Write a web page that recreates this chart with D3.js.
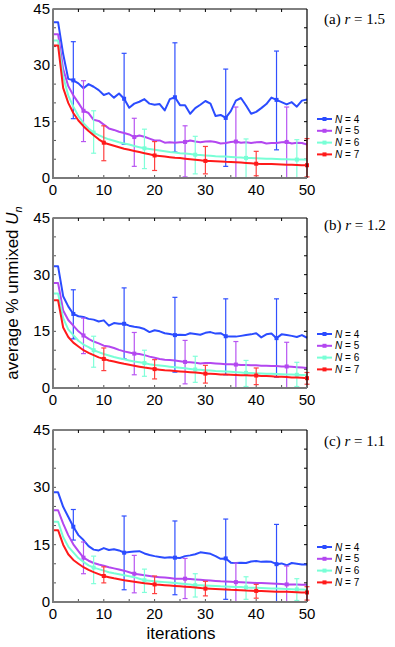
<!DOCTYPE html>
<html>
<head>
<meta charset="utf-8">
<script src="https://cdn.jsdelivr.net/npm/d3@7"></script>
<style>
  body { margin: 0; background: #fff; }
  svg { display: block; }
  text { font-family: "Liberation Sans", Arial, sans-serif; }
  text.title { font-family: "Liberation Serif", "Times New Roman", serif; }
</style>
</head>
<body>
<div id="chart"></div>
<script>
// iterations 0..50
var iterations = d3.range(0, 51);
var xTicks = [0, 10, 20, 30, 40, 50];
var yTicks = [0, 15, 30, 45];
var seriesNames = ["N = 4", "N = 5", "N = 6", "N = 7"];
var panelLabels = ["(a)", "(b)", "(c)"];
var rValues = ["1.5", "1.2", "1.1"];

// (a) r = 1.5
var n4a = [41.5,41.5,33,26.4,26,25.2,23.9,25,24.3,23.4,22.1,22.6,21.4,22.5,21.1,18.7,19.8,20.3,21,19.8,19.5,19.7,18,21,21.5,19.4,19.4,17.1,18.6,19.5,20.5,19.8,16.5,16.8,16,17.8,20.6,21.3,19.3,17.1,17.6,18.6,19.7,21.4,20.8,20.2,19.6,20.2,19,20.6,20.9];
var n5a = [38.3,38.3,29,24.5,22,20,17.9,17.3,15.5,15.2,14.2,13.2,12.8,12.3,12,11.6,10.9,11.3,11,10.5,10,10,9.4,9.5,9.4,9.5,9.6,10,9.7,9.5,9.7,9.8,9.6,9.2,9.3,9.6,9.7,9.4,9.5,9.3,9.5,9.6,9.2,9.3,9.3,9.5,9.6,9.2,9.4,9.3,8.9];
var n6a = [36.6,36.6,27,22,19,16.5,14.6,13.2,12.1,11.4,10.8,10.3,9.9,9.5,9.2,8.9,8.5,8.2,7.9,7.7,7.5,7.3,7.1,6.9,6.8,6.6,6.5,6.4,6.2,6.1,6,5.9,5.8,5.75,5.7,5.6,5.5,5.45,5.35,5.3,5.25,5.2,5.15,5.1,5.05,5,5,4.95,4.9,4.9,4.85];
var n7a = [35.3,35.3,24,20,17.3,15.3,13.8,12.5,11.4,10.3,9.4,9,8.6,8.2,7.8,7.5,7.2,6.9,6.6,6.3,6,5.85,5.7,5.55,5.4,5.3,5.15,5,4.85,4.7,4.55,4.5,4.45,4.4,4.3,4.25,4.2,4.1,4,3.9,3.8,3.75,3.7,3.7,3.65,3.6,3.55,3.5,3.45,3.4,3.4];
// error bars: [iteration, low, high]
var err4a = [[4,15.8,36.3],[14,9,33.2],[24,6.9,36],[34,3.1,29],[44,7.5,33.8]];
var err5a = [[6,9.7,25.9],[16,3.1,15.9],[26,0.3,13.9],[36,0,18.9],[46,0,18.9]];
var err6a = [[8,6.6,17.9],[18,2.5,13],[28,1.1,11.1],[38,0,10.4],[48,0,10.2]];
var err7a = [[10,4.6,13.9],[20,2,9.7],[30,1.1,8.4],[40,0.6,7.1],[50,0.3,10.5]];

// (b) r = 1.2
var n4b = [32.2,32.2,24.3,21.6,19.6,19,18.8,18.3,18.1,17.6,17.9,16.5,17.2,17,17,16.5,16.2,16,15.6,14.8,15.3,15,14.5,14.3,14,14.1,14,14.5,14.3,14.1,14.6,14.8,14.4,14.5,13.7,13.6,13.6,13.8,14,14.2,14.5,13.4,14.2,14.4,13.2,14.2,14,13.8,13.5,14,13.3];
var n5b = [27.8,27.8,20.5,18,16.5,15,13.9,13,12.3,11.8,11.2,11,10.6,10.1,9.7,9.4,9.1,9,8.7,8.3,8,7.7,7.5,7.4,7.3,7.1,6.9,6.8,6.7,6.5,6.6,6.6,6.5,6.4,6.3,6.3,6.2,6.1,6.1,6,6,5.9,5.9,5.8,5.8,5.7,5.7,5.6,5.5,5.4,5.3];
var n6b = [25,25,18.5,15.5,14,12.5,11.5,10.8,10,9.5,9,8.6,8.2,7.9,7.6,7.3,7,6.8,6.6,6.3,6.1,5.95,5.8,5.65,5.5,5.35,5.2,5.05,4.9,4.8,4.7,4.6,4.5,4.45,4.4,4.3,4.2,4.1,4,3.95,3.9,3.85,3.8,3.75,3.7,3.65,3.6,3.55,3.5,3.45,3.4];
var n7b = [23.2,23.2,16,13.5,12,11,10,9.3,8.7,8.1,7.7,7.3,7,6.7,6.4,6.15,5.9,5.65,5.4,5.2,5,4.85,4.7,4.6,4.5,4.4,4.3,4.2,4.1,3.95,3.8,3.75,3.7,3.6,3.55,3.5,3.45,3.4,3.35,3.3,3.3,3.2,3.15,3.1,3,2.95,2.9,2.8,2.75,2.7,2.6];
var err4b = [[4,13,26],[14,7.7,26.5],[24,4.2,24],[34,3.5,23.6],[44,2.9,23.6]];
var err5b = [[6,9.1,18.5],[16,3.5,14.7],[26,1.1,12.6],[36,0,12.3],[46,0,12.1]];
var err6b = [[8,5.5,13.7],[18,3.1,10],[28,1.5,8.4],[38,0.4,7.3],[48,0.4,6.8]];
var err7b = [[10,4.6,10.6],[20,2.4,7.5],[30,1.3,6],[40,0.9,5.3],[50,1,4.1]];

// (c) r = 1.1
var n4c = [28.7,28.7,24.9,22.3,19.7,17.5,16.2,14.6,13.7,13.5,14.1,13.6,13.8,13.5,12.9,13.1,13.2,13.3,12.7,12.3,12,11.8,11.6,11.7,11.6,11.5,12,12.2,12.5,13,12.8,12.6,12,11.3,11.4,10.3,10.2,10.3,10.2,10.6,10.7,10.5,10.6,10.5,9.9,10.1,9.6,10.2,10,9.8,9.8];
var n5c = [24,24,20.5,17.5,15.1,13.3,11.6,10.8,10.2,9.8,9.5,9.1,8.8,8.5,8.2,7.8,7.4,7.2,7,6.8,6.6,6.5,6.4,6.25,6.1,6.1,6.1,6,5.9,5.8,5.7,5.6,5.5,5.4,5.35,5.3,5.2,5.15,5.1,5.05,5,4.95,4.9,4.85,4.8,4.7,4.6,4.6,4.55,4.5,4.5];
var n6c = [21,21,17,14.5,13,11.5,10.5,9.6,9,8.6,8.2,7.8,7.5,7.25,7,6.75,6.5,6.1,5.7,5.55,5.4,5.3,5.2,5.1,5,4.85,4.7,4.55,4.4,4.35,4.3,4.25,4.2,4.1,4.05,4,3.95,3.9,3.8,3.75,3.7,3.65,3.6,3.55,3.5,3.45,3.4,3.35,3.3,3.25,3.2];
var n7c = [18.8,18.8,15,12.5,11,10,9.1,8.4,7.8,7.3,6.8,6.5,6.2,5.95,5.7,5.5,5.3,5.1,4.9,4.75,4.6,4.5,4.4,4.3,4.2,4.1,4,3.9,3.8,3.65,3.5,3.45,3.4,3.35,3.3,3.2,3.15,3.1,3,2.95,2.9,2.85,2.8,2.75,2.7,2.7,2.65,2.6,2.55,2.5,2.5];
var err4c = [[4,16.2,24.2],[14,3.2,22.5],[24,1.9,21.2],[34,0.7,21.7],[44,0,20.3]];
var err5c = [[6,7.4,15.7],[16,2.4,12.2],[26,0.9,11.4],[36,0,10.2],[46,0,9.4]];
var err6c = [[8,4.8,12],[18,2.5,8.6],[28,1.3,7.4],[38,0.7,6.6],[48,0.4,6.1]];
var err7c = [[10,5,9.2],[20,2.2,6.8],[30,1.6,5.4],[40,1,4.6],[50,0.5,4]];

var lineColors = ["#2b4cff", "#b347f0", "#78ffd6", "#ff1a1a"];
var barColors  = ["#3050ff", "#b855f2", "#80ffd9", "#ff4040"];

var W = 395, H = 647;
var left = 53, right = 307;
// panel frames: top, bottom, title baseline, first legend row
var panels = [
  { top: 9,   bottom: 178, titleY: 24,  legY: 119, lines: [n4a, n5a, n6a, n7a], errs: [err4a, err5a, err6a, err7a] },
  { top: 218, bottom: 388, titleY: 230, legY: 334, lines: [n4b, n5b, n6b, n7b], errs: [err4b, err5b, err6b, err7b] },
  { top: 430, bottom: 602, titleY: 446, legY: 547, lines: [n4c, n5c, n6c, n7c], errs: [err4c, err5c, err6c, err7c] }
];

var svg = d3.select("#chart").append("svg").attr("width", W).attr("height", H);
var x = d3.scaleLinear().domain([0, 50]).range([left, right]);

panels.forEach(function(p, pi) {
  var y = d3.scaleLinear().domain([0, 45]).range([p.bottom, p.top]);
  var g = svg.append("g");

  // inner ticks every 5 on all sides
  var minorX = d3.range(5, 50, 5), minorY = d3.range(5, 45, 5);
  g.selectAll(".tb").data(minorX).enter().append("line")
    .attr("x1", x).attr("x2", x).attr("y1", p.bottom).attr("y2", p.bottom - 3)
    .attr("stroke", "#555").attr("stroke-width", 1);
  g.selectAll(".tt").data(minorX).enter().append("line")
    .attr("x1", x).attr("x2", x).attr("y1", p.top).attr("y2", p.top + 3)
    .attr("stroke", "#000").attr("stroke-width", 1);
  g.selectAll(".tl").data(minorY).enter().append("line")
    .attr("x1", left).attr("x2", left + 3).attr("y1", y).attr("y2", y)
    .attr("stroke", "#555").attr("stroke-width", 1);
  g.selectAll(".tr").data(minorY).enter().append("line")
    .attr("x1", right).attr("x2", right - 3).attr("y1", y).attr("y2", y)
    .attr("stroke", "#000").attr("stroke-width", 1);

  var line = d3.line().x(function(d, i) { return x(iterations[i]); }).y(function(d) { return y(d); });

  p.lines.forEach(function(vals, si) {
    // error bars
    var eg = g.append("g");
    p.errs[si].forEach(function(e) {
      var cx = x(e[0]);
      eg.append("line").attr("x1", cx).attr("x2", cx).attr("y1", y(e[1])).attr("y2", y(e[2]))
        .attr("stroke", barColors[si]).attr("stroke-width", 1.2);
      [e[1], e[2]].forEach(function(v) {
        eg.append("line").attr("x1", cx - 2.5).attr("x2", cx + 2.5).attr("y1", y(v)).attr("y2", y(v))
          .attr("stroke", barColors[si]).attr("stroke-width", 1.2);
      });
    });
    g.append("path").datum(vals).attr("d", line)
      .attr("fill", "none").attr("stroke", lineColors[si]).attr("stroke-width", 2)
      .attr("stroke-linejoin", "round");
    p.errs[si].forEach(function(e) {
      g.append("rect").attr("x", x(e[0]) - 2).attr("y", y(vals[e[0]]) - 2)
        .attr("width", 4).attr("height", 4).attr("fill", lineColors[si]);
    });
  });

  // frame
  g.append("line").attr("x1", left).attr("x2", right).attr("y1", p.top).attr("y2", p.top)
    .attr("stroke", "#000").attr("stroke-width", 1);
  g.append("line").attr("x1", right).attr("x2", right).attr("y1", p.top).attr("y2", p.bottom)
    .attr("stroke", "#000").attr("stroke-width", 1.2);
  g.append("line").attr("x1", left).attr("x2", left).attr("y1", p.top - 0.5).attr("y2", p.bottom + 1)
    .attr("stroke", "#7a7a7a").attr("stroke-width", 2);
  g.append("line").attr("x1", left - 1).attr("x2", right).attr("y1", p.bottom).attr("y2", p.bottom)
    .attr("stroke", "#7a7a7a").attr("stroke-width", 2);

  // tick labels
  g.selectAll(".xl").data(xTicks).enter().append("text")
    .attr("x", x).attr("y", p.bottom + 17).attr("text-anchor", "middle")
    .attr("font-size", 15).text(function(d) { return d; });
  g.selectAll(".yl").data(yTicks).enter().append("text")
    .attr("x", left - 3).attr("y", function(d) { return y(d) + 5; }).attr("text-anchor", "end")
    .attr("font-size", 15).text(function(d) { return d; });

  // title
  var t = g.append("text").attr("class", "title").attr("x", 324).attr("y", p.titleY)
    .attr("font-size", 15);
  t.append("tspan").text(panelLabels[pi] + " ");
  t.append("tspan").attr("font-style", "italic").text("r");
  t.append("tspan").text(" = " + rValues[pi]);

  // legend
  seriesNames.forEach(function(nm, si) {
    var ly = p.legY + si * 11.8;
    g.append("line").attr("x1", 317).attr("x2", 332).attr("y1", ly).attr("y2", ly)
      .attr("stroke", lineColors[si]).attr("stroke-width", 2);
    g.append("rect").attr("x", 322.5).attr("y", ly - 2).attr("width", 4).attr("height", 4)
      .attr("fill", lineColors[si]);
    var lt = g.append("text").attr("x", 335).attr("y", ly + 3.5).attr("font-size", 10);
    lt.append("tspan").attr("font-style", "italic").text("N");
    lt.append("tspan").text(nm.slice(1));
  });
});

// axis titles
var yl = svg.append("text").attr("transform", "translate(18,293) rotate(-90)")
  .attr("text-anchor", "middle").attr("font-size", 17);
yl.append("tspan").text("average % unmixed ");
yl.append("tspan").attr("font-style", "italic").text("U");
yl.append("tspan").attr("font-style", "italic").attr("font-size", 11).attr("dy", 4).text("n");

svg.append("text").attr("x", 181).attr("y", 639).attr("text-anchor", "middle")
  .attr("font-size", 17).text("iterations");
</script>
</body>
</html>
